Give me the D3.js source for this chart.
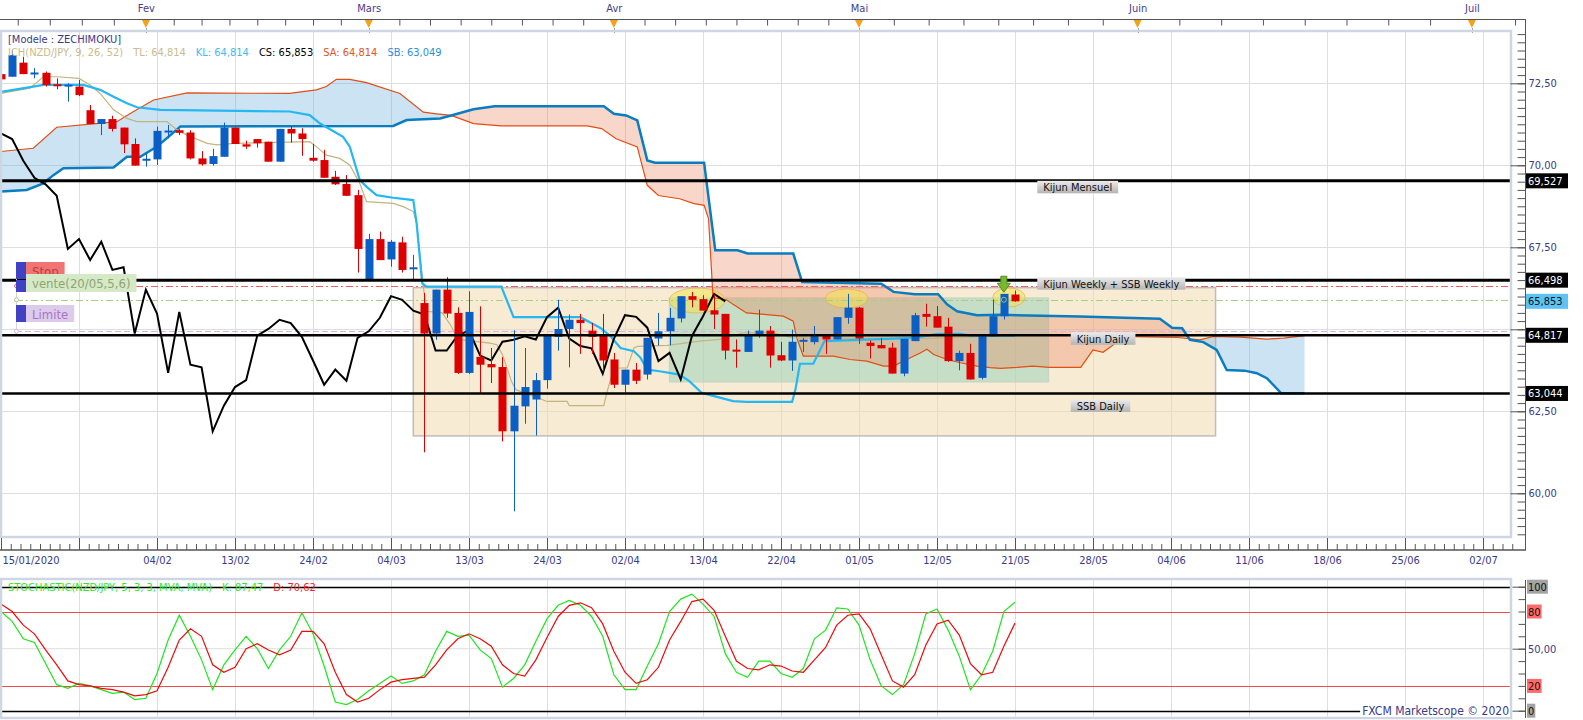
<!DOCTYPE html>
<html>
<head>
<meta charset="utf-8">
<script src="https://cdn.jsdelivr.net/npm/d3@7"></script>
<style>
body { margin: 0; background: #fff; }
svg { display: block; font-family: "DejaVu Sans Condensed", "DejaVu Sans", sans-serif; font-size: 11px; font-stretch: condensed; }
</style>
</head>
<body>
<svg id="chart" width="1583" height="720"></svg>
<script>
// NZD/JPY daily, 15/01/2020 .. 21/05/2020 (one slot per trading day, calendar days after 21/05)

// Candles
var opens = [72.78,72.70,73.13,72.80,72.82,72.47,72.44,72.40,71.68,71.26,
	71.41,71.15,70.65,70.17,70.18,71.03,71.07,71.00,70.21,70.04,
	70.26,71.15,70.64,70.80,70.72,70.11,71.11,70.97,70.23,70.16,
	69.65,69.43,69.09,66.50,67.75,67.13,67.65,66.87,65.80,64.87,
	66.21,65.50,63.67,64.16,63.94,63.85,61.89,62.65,62.86,63.45,
	64.77,65.01,65.29,64.96,64.81,64.08,63.31,63.77,63.62,64.72,
	64.94,65.33,66.01,65.92,65.58,65.47,64.38,64.31,64.82,64.96,
	64.21,64.05,64.65,64.61,64.81,64.69,65.35,65.66,64.59,64.52,
	64.44,63.65,64.64,65.47,65.40,65.08,64.03,64.28,63.52,64.79,
	65.40,66.06];
var highs = [72.80,73.50,73.31,72.96,72.86,72.65,72.50,72.60,71.84,71.41,
	71.51,71.15,70.82,70.37,71.18,71.23,71.10,71.07,70.43,70.50,
	71.30,71.15,70.75,70.80,70.72,71.11,71.20,71.13,70.65,70.47,
	69.83,69.70,69.25,67.91,67.98,67.72,67.82,67.27,66.11,66.21,
	66.59,65.67,66.16,65.70,64.43,64.15,64.97,64.43,63.67,64.81,
	65.90,65.45,65.47,65.19,65.47,64.28,63.77,63.97,64.74,65.50,
	65.65,66.01,66.14,66.04,66.06,65.47,64.69,64.96,65.60,65.10,
	64.62,64.99,64.74,65.10,64.81,65.37,66.08,65.68,64.66,64.74,
	64.59,64.71,65.50,65.78,65.71,65.35,64.35,64.56,64.79,65.91,
	66.08,66.18];
var lows = [72.40,72.70,72.78,72.65,72.40,72.32,71.94,72.11,71.25,70.92,
	71.03,70.37,69.99,69.96,70.01,70.82,70.92,70.18,69.99,69.99,
	70.26,70.65,70.50,70.54,70.11,70.11,70.69,70.29,70.11,69.62,
	69.40,69.07,66.73,66.50,67.11,66.91,66.73,66.50,61.25,64.68,
	65.35,63.64,63.64,63.06,63.36,61.58,59.45,62.12,61.76,63.19,
	64.35,63.84,64.25,64.25,63.72,63.21,63.06,63.33,63.47,64.51,
	64.51,65.21,65.67,65.57,65.01,64.08,63.83,64.31,64.74,63.83,
	64.03,63.73,64.31,64.54,64.25,64.69,65.17,64.56,64.11,64.42,
	63.65,63.57,64.64,65.08,65.05,64.01,63.75,63.47,63.47,64.79,
	65.30,65.84];
var closes = [72.62,73.36,72.78,72.83,72.45,72.43,72.46,72.14,71.26,71.41,
	71.11,70.64,69.99,70.20,71.05,71.06,70.99,70.21,70.03,70.28,
	71.15,70.65,70.57,70.67,70.11,71.11,70.97,70.80,70.14,69.62,
	69.42,69.07,67.45,67.75,67.11,67.67,66.81,66.89,64.87,66.21,
	65.48,63.67,65.53,63.92,63.84,61.89,62.67,63.24,63.45,64.81,
	65.01,65.29,65.19,64.77,64.05,63.31,63.77,63.43,64.74,64.94,
	65.35,66.01,65.90,65.57,65.45,64.35,64.35,64.82,64.96,64.20,
	64.05,64.62,64.68,64.79,64.69,65.37,65.66,64.72,64.49,64.42,
	63.65,64.71,65.43,65.38,65.05,64.03,64.28,63.47,64.79,65.40,
	66.08,65.853];

// Ichimoku lines, [slot, price]
var tenkanPts = [[0,72.19],[1.7,72.30],[2.6,72.35],[3.8,72.70],[5.0,72.70],[7.0,72.65],[8.0,72.45],[8.9,72.19],
	[10.1,71.69],[11.3,71.43],[12.2,71.33],[14.9,71.33],[15.8,71.08],[16.7,70.92],[18.5,70.67],[19.4,70.62],
	[20.9,70.67],[27.7,70.72],[28.3,70.57],[29.2,70.31],[30.4,70.21],[31.3,70.01],[32.2,69.45],[32.8,68.89],
	[35.2,68.84],[36.1,68.74],[37.0,68.59],[37.3,68.23],[37.9,66.30],[38.2,65.55],[39.6,65.50],[40.4,65.10],
	[41.0,64.69],[43.9,64.58],[44.5,64.53],[45.0,64.23],[45.8,63.42],[46.2,63.16],[47.8,62.96],[49.0,62.80],
	[50.8,62.80],[51.0,62.67],[54.1,62.67],[54.4,63.11],[55.0,63.82],[56.2,63.82],[56.8,64.43],[57.1,64.48],
	[59.8,64.51],[62.7,64.64],[64.5,64.69],[66.6,64.89],[69.3,64.89],[71.1,64.74],[81.9,64.71],[91,64.81]];
var kijunPts = [[0,72.24],[2.9,72.40],[3.8,72.45],[7.4,72.45],[8.9,72.30],[10.1,72.09],[11.3,71.89],[12.2,71.77],
	[14.3,71.69],[25.9,71.64],[27.7,71.53],[28.6,71.28],[30.7,70.87],[31.3,70.57],[32.2,69.55],[32.8,69.35],
	[33.7,69.09],[35.2,69.01],[37.0,68.94],[37.3,68.23],[37.8,66.40],[38.2,66.30],[44.9,66.30],[46.0,65.37],
	[52.0,65.37],[53.8,65.04],[54.7,64.79],[55.6,64.43],[56.8,64.33],[57.4,64.13],[58.0,63.77],[59.1,63.72],
	[60.9,63.62],[61.8,63.41],[62.9,63.06],[65.7,62.81],[66.9,62.79],[71.0,62.79],[71.3,63.17],[71.7,63.95],
	[72.9,63.95],[73.9,64.64],[81.9,64.74],[84.1,64.86],[86.1,64.86],[87.0,64.81],[91,64.81]];
var senkouAPts = [[0,70.42],[2.9,70.52],[5.0,71.16],[8.3,71.26],[10.4,71.33],[11.9,71.64],[13.7,71.99],[16.7,72.21],
	[25.9,72.19],[28.3,72.30],[29.2,72.40],[30.1,72.62],[31.3,72.62],[32.8,72.52],[35.8,72.19],[37.9,71.62],
	[39.1,71.57],[40.4,71.52],[42.4,71.27],[44.9,71.20],[52.6,71.20],[53.9,71.12],[55.2,70.81],[57.1,70.56],
	[58.0,69.39],[59.0,69.08],[60.9,68.98],[62.2,68.83],[63.1,68.78],[63.5,68.37],[63.9,65.96],[65.1,65.90],
	[65.7,65.76],[66.9,65.50],[68.7,65.45],[70.2,65.40],[71.1,65.25],[71.4,64.75],[72.0,64.18],[74.7,64.18],
	[76.2,64.08],[77.7,64.03],[79.2,63.88],[80.1,63.88],[81.6,64.13],[82.5,64.28],[83.1,64.39],[83.7,64.23],
	[84.9,64.08],[86.1,63.98],[87.6,63.88],[88.8,63.83],[89.7,63.81],[91.2,63.84],[92.6,63.88],[94.1,63.84],
	[96.9,63.84],[98.0,64.37],[98.9,64.30],[100.0,64.57],[100.4,64.78],[105.6,64.75],[107.6,64.68],[108.8,64.78],
	[111.2,64.76],[113.6,64.70],[115.1,64.73],[117,64.81]];
var senkouBPts = [[0,69.20],[2.3,69.25],[3.8,69.45],[4.7,69.70],[5.6,69.91],[10.1,69.93],[11.3,70.26],[12.5,70.26],
	[14.0,70.57],[16.1,71.18],[35.2,71.20],[36.4,71.38],[39.4,71.43],[40.4,71.52],[42.4,71.71],[44.3,71.80],
	[54.1,71.80],[55.0,71.57],[56.1,71.52],[57.1,71.37],[58.0,70.15],[58.7,70.08],[63.1,70.08],[63.3,69.54],
	[64.1,67.41],[66.1,67.41],[67.0,67.31],[71.1,67.31],[71.9,66.44],[79.0,66.39],[80.1,66.14],[82.0,66.07],
	[84.1,66.07],[84.9,65.76],[85.8,65.55],[87.6,65.43],[89.7,65.44],[96.8,65.39],[104.0,65.32],[105.1,65.05],
	[106.0,65.03],[106.7,64.68],[107.9,64.61],[109.1,64.37],[110.0,63.76],[111.6,63.74],[112.7,63.66],[113.6,63.51],
	[114.9,63.05],[117,63.05]];
// Chikou span, slot 0..65
var chikou = [70.97,70.80,70.14,69.62,69.42,69.07,67.45,67.75,67.11,67.67,
	66.81,66.89,64.87,66.21,65.48,63.67,65.53,63.92,63.84,61.89,
	62.67,63.24,63.45,64.81,65.01,65.29,65.19,64.77,64.05,63.31,
	63.77,63.43,64.74,64.94,65.35,66.01,65.90,65.57,65.45,64.35,
	64.35,64.82,64.96,64.20,64.05,64.62,64.68,64.79,64.69,65.37,
	65.66,64.72,64.49,64.42,63.65,64.71,65.43,65.38,65.05,64.03,
	64.28,63.47,64.79,65.40,66.08,65.853];

// Stochastic
var stochK = [80,72,58,55,38,21,18,22,20,17,14,15,9,10,30,57,77,60,41,17,
	37,49,60,50,34,49,60,79,62,36,7,5,9,16,22,28,22,24,29,48,
	64,60,61,49,42,19,26,37,56,74,85,89,85,76,60,29,17,17,36,54,
	80,90,94,86,76,46,31,27,40,40,30,27,34,58,65,83,82,69,41,20,
	13,21,46,78,82,65,44,17,29,48,80,87.47];
var stochD = [86,80,69,62,49,37,24,21,20,18,17,15,12,13,16,35,57,66,60,37,
	31,35,50,54,49,45,49,64,64,54,31,13,7,10,17,23,25,26,27,37,
	49,58,62,58,52,37,30,28,41,59,76,85,87,83,70,48,31,22,25,35,
	57,72,88,90,81,60,40,34,33,37,36,32,31,41,51,69,77,78,66,45,
	24,19,29,53,70,73,61,38,29,31,52,70.62];

// Levels drawn on the chart
var levelPrices = [69.527, 66.498, 64.817, 63.044];
var levelNames = ['Kijun Mensuel', 'Kijun Weekly + SSB Weekly', 'Kijun Daily', 'SSB Daily'];
var orderPrices = [66.32, 65.90, 64.94];   // stop, entry, limit
var orderNames = ['Stop', 'vente(20/05,5,6)', 'Limite'];

// Zones (slot start, slot end, top price, bottom price)
var zoneStart = [37, 60];
var zoneEnd = [109, 94];
var zoneTop = [66.27, 65.95];
var zoneBottom = [61.75, 63.40];
// Highlighted tops (centre slot, centre price)
var markSlot = [62.46, 75.9, 90.46];
var markPrice = [65.88, 65.94, 65.97];
var signalSlot = 90, signalPrice = 66.13;

// Axis labels
var monthStart = [-10, 13, 33, 55, 77, 102, 132, 163];
var monthNames = ['Janv', 'Fev', 'Mars', 'Avr', 'Mai', 'Juin', 'Juil'];
var dateLabels = ['15/01/2020', '', '04/02', '13/02', '24/02', '04/03', '13/03', '24/03', '02/04', '13/04',
	'22/04', '01/05', '12/05', '21/05', '28/05', '04/06', '11/06', '18/06', '25/06', '02/07'];
var priceTicks = [60, 62.5, 65, 67.5, 70, 72.5];
var priceLabelled = [60, 62.5, 67.5, 70, 72.5];   // 65,00 sits under the 64,817 tag
var legendText = ['ICH(NZD/JPY, 9, 26, 52)', 'TL: 64,814', 'KL: 64,814', 'CS: 65,853', 'SA: 64,814', 'SB: 63,049'];
var stochLegend = ['STOCHASTIC(NZD/JPY, 5, 3, 3, MVA, MVA)', 'K: 87,47', 'D: 70,62'];

// ---------------------------------------------------------------

var svg = d3.select('#chart');
var ink = '#3a3a8a', upCol = '#0a5ec4', downCol = '#dc0000';

var x = d3.scaleLinear().domain([0, 133]).range([1, 1483]);
var y = d3.scaleLinear().domain([60, 72.5]).range([493.3, 83.3]);
var ys = d3.scaleLinear().domain([0, 100]).range([710.7, 586.7]);

var frame = {l: 1, r: 1511, t: 31, b: 537};
var sframe = {t: 579, b: 718};
var axisX = 1525;

function comma(v, d) { return v.toFixed(d).replace('.', ','); }
function styleAxis(sel) {
	sel.attr('font-family', null).attr('font-size', null);
	sel.selectAll('.tick line').attr('stroke', '#555');
	sel.selectAll('.tick text').attr('fill', ink);
	sel.select('.domain').remove();
}

var defs = svg.append('defs');
defs.append('clipPath').attr('id', 'clipMain').append('rect')
	.attr('x', frame.l).attr('y', frame.t).attr('width', frame.r - frame.l).attr('height', frame.b - frame.t);
defs.append('clipPath').attr('id', 'clipStoch').append('rect')
	.attr('x', frame.l).attr('y', sframe.t).attr('width', frame.r - frame.l).attr('height', sframe.b - sframe.t);
var grad = defs.append('linearGradient').attr('id', 'lblGrad').attr('x1', 0).attr('y1', 0).attr('x2', 0).attr('y2', 1);
grad.append('stop').attr('offset', '0%').attr('stop-color', '#ececec');
grad.append('stop').attr('offset', '100%').attr('stop-color', '#b4b4b4');

var line = d3.line().x(function(d) { return x(d[0]); }).y(function(d) { return y(d[1]); });

// ---------- top month axis ----------
var monthTicks = [];
for (var m = 0; m < monthStart.length - 1; m++) {
	for (var j = 0; j < 8; j++) monthTicks.push(monthStart[m] + (monthStart[m + 1] - monthStart[m]) * j / 8);
}
monthTicks = monthTicks.filter(function(t) { return x(t) >= 0 && x(t) <= axisX; });

svg.append('line').attr('x1', 0).attr('x2', axisX).attr('y1', 19.5).attr('y2', 19.5).attr('stroke', '#555');
var topTicks = svg.append('g').attr('transform', 'translate(0,19.5)')
	.call(d3.axisBottom(x).tickValues(monthTicks).tickSizeInner(6).tickSizeOuter(0).tickFormat(''));
styleAxis(topTicks);
var topLabels = svg.append('g').attr('transform', 'translate(0,19)')
	.call(d3.axisTop(x).tickValues(monthStart.slice(1, 7)).tickSize(0).tickPadding(7)
		.tickFormat(function(d, i) { return monthNames[i + 1]; }));
styleAxis(topLabels);
topLabels.selectAll('.tick text').attr('fill', '#4a3a8a');

svg.append('g').selectAll('path').data(monthStart.slice(1, 7)).join('path')
	.attr('d', function(d) { var cx = x(d); return 'M' + (cx - 4) + ',20L' + (cx + 4) + ',20L' + cx + ',28Z'; })
	.attr('fill', '#f6a11c');
svg.append('g').selectAll('line').data(monthStart.slice(1, 7)).join('line')
	.attr('x1', function(d) { return Math.round(x(d)) + 0.5; }).attr('x2', function(d) { return Math.round(x(d)) + 0.5; })
	.attr('y1', 28).attr('y2', 33).attr('stroke', '#9a9a9a');

// ---------- main panel ----------
var main = svg.append('g').attr('clip-path', 'url(#clipMain)');

var vGrid = d3.range(0, 136, 7);
main.append('g').selectAll('line').data(vGrid).join('line')
	.attr('x1', function(d) { return Math.round(x(d)) + 0.5; }).attr('x2', function(d) { return Math.round(x(d)) + 0.5; })
	.attr('y1', frame.t).attr('y2', frame.b).attr('stroke', '#dedede');
main.append('g').selectAll('line').data(priceTicks).join('line')
	.attr('x1', frame.l).attr('x2', frame.r)
	.attr('y1', function(d) { return Math.round(y(d)) + 0.5; }).attr('y2', function(d) { return Math.round(y(d)) + 0.5; })
	.attr('stroke', '#dedede');

// zones
var zoneFill = ['rgba(240,218,176,0.55)', 'rgba(130,205,178,0.42)'];
var zoneStroke = ['#bdbdbd', '#c6d6c6'];
main.append('g').selectAll('rect').data(zoneStart).join('rect')
	.attr('x', function(d, i) { return x(zoneStart[i]); })
	.attr('y', function(d, i) { return y(zoneTop[i]); })
	.attr('width', function(d, i) { return x(zoneEnd[i]) - x(zoneStart[i]); })
	.attr('height', function(d, i) { return y(zoneBottom[i]) - y(zoneTop[i]); })
	.attr('fill', function(d, i) { return zoneFill[i]; })
	.attr('stroke', function(d, i) { return zoneStroke[i]; }).attr('stroke-width', 1.5);

// kumo
var bandD = line(senkouAPts.concat(senkouBPts.slice().reverse())) + 'Z';
var sbLine = senkouBPts.map(function(d) { return [x(d[0]), y(d[1])]; });
var lastSlot = senkouBPts[senkouBPts.length - 1][0];
var aboveD = 'M' + sbLine.map(function(p) { return p.join(','); }).join('L') + 'L' + x(lastSlot) + ',0L' + x(0) + ',0Z';
var belowD = 'M' + sbLine.map(function(p) { return p.join(','); }).join('L') + 'L' + x(lastSlot) + ',720L' + x(0) + ',720Z';
defs.append('clipPath').attr('id', 'clipAbove').append('path').attr('d', aboveD);
defs.append('clipPath').attr('id', 'clipBelow').append('path').attr('d', belowD);
main.append('g').attr('clip-path', 'url(#clipAbove)').append('path').attr('d', bandD)
	.attr('fill', 'rgba(100,170,222,0.33)');
main.append('g').attr('clip-path', 'url(#clipBelow)').append('path').attr('d', bandD)
	.attr('fill', 'rgba(235,120,80,0.30)');

// highlighted tops
var markRx = [2.5, 1.9, 1.45], markRy = [0.38, 0.29, 0.29];
main.append('g').selectAll('ellipse').data(markSlot).join('ellipse')
	.attr('cx', function(d) { return x(d); })
	.attr('cy', function(d, i) { return y(markPrice[i]); })
	.attr('rx', function(d, i) { return x(markRx[i]) - x(0); })
	.attr('ry', function(d, i) { return y(0) - y(markRy[i]); })
	.attr('fill', 'rgba(242,228,80,0.55)').attr('stroke', 'rgba(222,170,70,0.6)');

// order lines
var orderCol = ['#ff5a5a', '#a6d081', '#d5b3e2'];
var orderDash = ['7,3,2,3', '7,3,2,3', '6,3'];
main.append('g').selectAll('line').data(orderPrices).join('line')
	.attr('x1', 16).attr('x2', frame.r)
	.attr('y1', function(d) { return Math.round(y(d)) + 0.5; }).attr('y2', function(d) { return Math.round(y(d)) + 0.5; })
	.attr('stroke', function(d, i) { return orderCol[i]; })
	.attr('stroke-dasharray', function(d, i) { return orderDash[i]; });

// ichimoku lines
main.append('path').attr('d', line(senkouAPts)).attr('fill', 'none').attr('stroke', '#e34d12').attr('stroke-width', 1.2);
main.append('path').attr('d', line(senkouBPts)).attr('fill', 'none').attr('stroke', '#0a7dc0').attr('stroke-width', 2.5);
main.append('path').attr('d', line(tenkanPts)).attr('fill', 'none').attr('stroke', '#c4b47e').attr('stroke-width', 1.2);
main.append('path').attr('d', line(kijunPts)).attr('fill', 'none').attr('stroke', '#25b7f2').attr('stroke-width', 2.2);
main.append('path').attr('d', d3.line().x(function(d, i) { return x(i); }).y(function(d) { return y(d); })(chikou))
	.attr('fill', 'none').attr('stroke', '#000').attr('stroke-width', 2);

// candles
var idx = d3.range(opens.length);
var candle = main.append('g').selectAll('g').data(idx).join('g')
	.attr('fill', function(i) { return closes[i] >= opens[i] ? upCol : downCol; })
	.attr('stroke', function(i) { return closes[i] >= opens[i] ? upCol : downCol; });
candle.append('line')
	.attr('x1', function(i) { return Math.round(x(i)) + 0.5; }).attr('x2', function(i) { return Math.round(x(i)) + 0.5; })
	.attr('y1', function(i) { return y(highs[i]); }).attr('y2', function(i) { return y(lows[i]); });
candle.append('rect').attr('stroke', 'none')
	.attr('x', function(i) { return Math.round(x(i)) - 3.5; }).attr('width', 8)
	.attr('y', function(i) { return y(Math.max(opens[i], closes[i])); })
	.attr('height', function(i) { return Math.max(2, Math.abs(y(opens[i]) - y(closes[i]))); });

// level lines
var levelWidth = [3, 3, 2.5, 2.5];
main.append('g').selectAll('line').data(levelPrices).join('line')
	.attr('x1', 0).attr('x2', frame.r)
	.attr('y1', function(d) { return y(d); }).attr('y2', function(d) { return y(d); })
	.attr('stroke', '#000').attr('stroke-width', function(d, i) { return levelWidth[i]; });

// sell signal
main.append('path')
	.attr('transform', 'translate(' + x(signalSlot) + ',' + y(signalPrice) + ')')
	.attr('d', 'M-3,-16L3,-16L3,-9L6.5,-9L0,0L-6.5,-9L-3,-9Z')
	.attr('fill', '#77b82e').attr('stroke', '#548f1e');
main.append('circle').attr('cx', x(signalSlot)).attr('cy', y(orderPrices[1])).attr('r', 2.5)
	.attr('fill', 'none').attr('stroke', '#9cc47a');

// level labels
var labelSlot = [93, 93, 96, 96], labelDy = [0, -3, -3, 6];
var lbl = main.append('g').selectAll('g').data(levelNames).join('g')
	.attr('transform', function(d, i) { return 'translate(' + x(labelSlot[i]) + ',' + (y(levelPrices[i]) + labelDy[i]) + ')'; });
lbl.append('rect').attr('height', 12.5).attr('fill', 'url(#lblGrad)');
lbl.append('text').attr('x', 6).attr('y', 10.5).attr('fill', '#111').text(function(d) { return d; });
lbl.each(function() {
	var g = d3.select(this);
	g.select('rect').attr('width', g.select('text').node().getComputedTextLength() + 12);
});

// order labels on the left
var ord = svg.append('g');
ord.append('line').attr('x1', 16.5).attr('x2', 16.5).attr('y1', 279).attr('y2', y(orderPrices[2])).attr('stroke', '#d8d0e4');
ord.selectAll('circle').data(orderPrices).join('circle')
	.attr('cx', 16.5).attr('cy', function(d) { return y(d); }).attr('r', 2)
	.attr('fill', '#fff').attr('stroke', function(d, i) { return orderCol[i]; });
var ordTop = [262, 274, 305], ordH = [17, 18, 17];
var ordFill = ['#f07474', '#d6e9c6', '#ddcbec'], ordText = ['#b84040', '#8ea474', '#a874c4'];
var og = ord.selectAll('g').data(orderNames).join('g')
	.attr('transform', function(d, i) { return 'translate(26,' + ordTop[i] + ')'; });
og.append('rect').attr('class', 'box').attr('height', function(d, i) { return ordH[i]; })
	.attr('fill', function(d, i) { return ordFill[i]; });
og.append('rect').attr('x', -10).attr('width', 10)
	.attr('y', function(d, i) { return i == 1 ? 6 : 0; })
	.attr('height', function(d, i) { return i == 1 ? 12 : ordH[i]; }).attr('fill', '#4141c4');
og.append('text').attr('x', 6).attr('y', function(d, i) { return ordH[i] / 2 + 5; })
	.attr('font-size', 13).attr('fill', function(d, i) { return ordText[i]; }).text(function(d) { return d; });
og.each(function() {
	var g = d3.select(this);
	g.select('.box').attr('width', g.select('text').node().getComputedTextLength() + 12);
});

// legend
svg.append('text').attr('x', 8).attr('y', 43).attr('fill', ink).text('[Modele : ZECHIMOKU]');
var legendCol = ['#c9bb8c', '#c9bb8c', '#3cbcf0', '#000', '#e5531e', '#2b90d9'];
var lx = 8;
legendText.forEach(function(t, i) {
	var tx = svg.append('text').attr('x', lx).attr('y', 56).attr('fill', legendCol[i]).text(t);
	lx += tx.node().getComputedTextLength() + 10;
});

// frame
svg.append('rect').attr('x', frame.l).attr('y', frame.t).attr('width', frame.r - frame.l).attr('height', frame.b - frame.t)
	.attr('fill', 'none').attr('stroke', '#cdd6e2').attr('stroke-width', 2.5);

// right price axis
svg.append('line').attr('x1', axisX + 0.5).attr('x2', axisX + 0.5).attr('y1', 19).attr('y2', 550).attr('stroke', '#555');
var yMinor = svg.append('g').attr('transform', 'translate(' + (axisX + 0.5) + ',0)')
	.call(d3.axisRight(y).tickValues(d3.range(58.75, 74.01, 0.25)).tickSizeInner(-8).tickSizeOuter(0).tickFormat(''));
styleAxis(yMinor);
var yMajor = svg.append('g').attr('transform', 'translate(' + (axisX + 0.5) + ',0)')
	.call(d3.axisRight(y).tickValues(priceTicks).tickSizeInner(-15).tickSizeOuter(0).tickPadding(3)
		.tickFormat(function(d) { return priceLabelled.indexOf(d) >= 0 ? comma(d, 2) : ''; }));
styleAxis(yMajor);

var valPrices = levelPrices.concat([closes[closes.length - 1]]);
var valBg = ['#000', '#000', '#000', '#000', '#5cc4f5'], valFg = ['#fff', '#fff', '#fff', '#fff', '#111'];
var vb = svg.append('g').selectAll('g').data(valPrices).join('g')
	.attr('transform', function(d) { return 'translate(1526,' + y(d) + ')'; });
vb.append('rect').attr('y', -7.5).attr('width', 42).attr('height', 15).attr('fill', function(d, i) { return valBg[i]; });
vb.append('text').attr('x', 2).attr('y', 4).attr('fill', function(d, i) { return valFg[i]; })
	.text(function(d) { return comma(d, 3); });

// bottom date axis
svg.append('line').attr('x1', 0).attr('x2', axisX + 1).attr('y1', 550).attr('y2', 550).attr('stroke', '#555').attr('stroke-width', 1.5);
var xMinor = svg.append('g').attr('transform', 'translate(0,550)')
	.call(d3.axisBottom(x).tickValues(d3.range(0, 136, 7 / 8)).tickSizeInner(-6).tickSizeOuter(0).tickFormat(''));
styleAxis(xMinor);
var xMajor = svg.append('g').attr('transform', 'translate(0,550)')
	.call(d3.axisBottom(x).tickValues(d3.range(0, 134, 7)).tickSizeInner(-12).tickSizeOuter(0).tickPadding(6)
		.tickFormat(function(d, i) { return dateLabels[i]; }));
styleAxis(xMajor);
xMajor.select('.tick text').attr('text-anchor', 'start').attr('x', 1);

// ---------- stochastic panel ----------
var st = svg.append('g').attr('clip-path', 'url(#clipStoch)');
st.append('g').selectAll('line').data(vGrid).join('line')
	.attr('x1', function(d) { return Math.round(x(d)) + 0.5; }).attr('x2', function(d) { return Math.round(x(d)) + 0.5; })
	.attr('y1', sframe.t).attr('y2', sframe.b).attr('stroke', '#dedede');
st.append('line').attr('x1', frame.l).attr('x2', frame.r).attr('y1', ys(50)).attr('y2', ys(50)).attr('stroke', '#dedede');
var stLevels = [100, 80, 20, 0], stLevelCol = ['#000', '#f24a4a', '#f24a4a', '#000'];
st.append('g').selectAll('line').data(stLevels).join('line')
	.attr('x1', frame.l).attr('x2', frame.r)
	.attr('y1', function(d) { return Math.round(ys(d)) + 0.5; }).attr('y2', function(d) { return Math.round(ys(d)) + 0.5; })
	.attr('stroke', function(d, i) { return stLevelCol[i]; }).attr('stroke-width', function(d, i) { return i % 3 == 0 ? 1.5 : 1; });
var sline = d3.line().x(function(d, i) { return x(i); }).y(function(d) { return ys(d); });
st.append('path').attr('d', sline(stochK)).attr('fill', 'none').attr('stroke', '#1ee61e').attr('stroke-width', 1.2);
st.append('path').attr('d', sline(stochD)).attr('fill', 'none').attr('stroke', '#ee0a0a').attr('stroke-width', 1.2);

var stCol = ['#2ee82e', '#2ee82e', '#ff1e1e'];
var sx = 8;
stochLegend.forEach(function(t, i) {
	var tx = svg.append('text').attr('x', sx).attr('y', 591).attr('fill', stCol[i]).text(t);
	sx += tx.node().getComputedTextLength() + 10;
});

svg.append('rect').attr('x', frame.l).attr('y', sframe.t).attr('width', frame.r - frame.l).attr('height', sframe.b - sframe.t)
	.attr('fill', 'none').attr('stroke', '#cdd6e2').attr('stroke-width', 2.5);

// stochastic axis
svg.append('line').attr('x1', axisX + 0.5).attr('x2', axisX + 0.5).attr('y1', 580).attr('y2', 718).attr('stroke', '#555');
var sMinor = svg.append('g').attr('transform', 'translate(' + (axisX + 0.5) + ',0)')
	.call(d3.axisRight(ys).tickValues(d3.range(0, 101, 10)).tickSizeInner(-7).tickSizeOuter(0).tickFormat(''));
styleAxis(sMinor);
var sMajor = svg.append('g').attr('transform', 'translate(' + (axisX + 0.5) + ',0)')
	.call(d3.axisRight(ys).tickValues([0, 50, 100]).tickSizeInner(-13).tickSizeOuter(0).tickFormat(''));
styleAxis(sMajor);
var stLabelVals = [100, 80, 50, 20, 0];
var stLabelBg = ['#a3a3a3', '#ff6a6a', 'none', '#ff6a6a', '#a3a3a3'];
var sl = svg.append('g').selectAll('g').data(stLabelVals).join('g')
	.attr('transform', function(d) { return 'translate(1527,' + ys(d) + ')'; });
sl.append('rect').attr('y', -7).attr('height', 14).attr('fill', function(d, i) { return stLabelBg[i]; });
sl.append('text').attr('x', 1).attr('y', 4)
	.attr('fill', function(d) { return d == 50 ? ink : '#111'; })
	.text(function(d) { return d == 50 ? '50,00' : d; });
sl.each(function() {
	var g = d3.select(this);
	g.select('rect').attr('width', g.select('text').node().getComputedTextLength() + 2);
});

// footer
var footG = svg.append('g');
var footBg = footG.append('rect').attr('fill', '#fff');
var foot = footG.append('text').attr('x', 1509).attr('y', 715).attr('text-anchor', 'end')
	.attr('font-size', 12).attr('fill', ink).text('FXCM Marketscope \u00a9 2020');
var fb = foot.node().getBBox();
footBg.attr('x', fb.x - 2).attr('y', 706).attr('width', fb.width + 3).attr('height', 11);
</script>
</body>
</html>
